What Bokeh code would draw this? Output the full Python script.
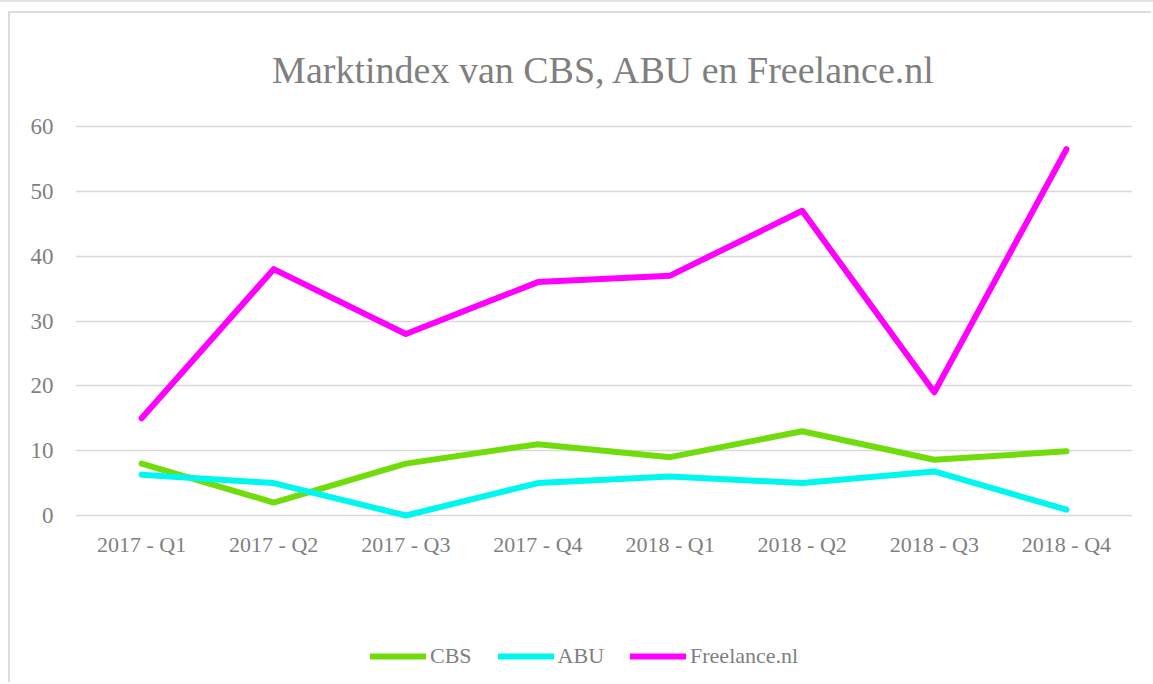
from bokeh.plotting import figure
from bokeh.models import FactorRange, Range1d, Legend, LegendItem, FixedTicker
from bokeh.embed import file_html
from bokeh.resources import INLINE

quarters = ["2017 - Q1", "2017 - Q2", "2017 - Q3", "2017 - Q4",
            "2018 - Q1", "2018 - Q2", "2018 - Q3", "2018 - Q4"]
cbs = [8.0, 2.0, 8.0, 11.0, 9.0, 13.0, 8.6, 9.9]
abu = [6.3, 5.0, 0.0, 5.0, 6.0, 5.0, 6.8, 0.9]
freelance = [15.0, 38.0, 28.0, 36.0, 37.0, 47.0, 19.0, 56.5]
y_ticks = [0, 10, 20, 30, 40, 50, 60]

series_names = ["CBS", "ABU", "Freelance.nl"]
series_colors = ["#71dc0c", "#00f7ef", "#ff00ff"]

FONT = "Liberation Serif"
TXT = "#7f7f7f"

p = figure(width=1143, height=671, x_range=FactorRange(*quarters),
           y_range=Range1d(-26.07, 60.93), output_backend="svg", toolbar_location=None,
           min_border_left=65, min_border_right=21, min_border_top=107,
           min_border_bottom=0)
p.outline_line_color = None
p.background_fill_color = "white"
p.border_fill_color = "white"

p.title.text = "Marktindex van CBS, ABU en Freelance.nl"
p.title.align = "center"
p.title.text_font = FONT
p.title.text_font_size = "38px"
p.title.text_font_style = "normal"
p.title.text_color = TXT
p.title.standoff = 60

renderers = []
for name, vals, col in zip(series_names, [cbs, abu, freelance], series_colors):
    r = p.line(quarters, vals, line_color=col, line_width=6,
               line_join="round", line_cap="round")
    renderers.append(r)

p.xgrid.grid_line_color = None
p.ygrid.grid_line_color = "#d9d9d9"
p.ygrid.grid_line_width = 1.5
p.yaxis.ticker = FixedTicker(ticks=y_ticks)

for ax in (p.xaxis[0], p.yaxis[0]):
    ax.axis_line_color = None
    ax.major_tick_line_color = None
    ax.minor_tick_line_color = None
    ax.major_tick_in = 0
    ax.major_tick_out = 0
    ax.major_label_text_font = FONT
    ax.major_label_text_color = TXT
p.xaxis.major_label_text_font_size = "22px"
p.yaxis.major_label_text_font_size = "23px"
p.yaxis.major_label_standoff = 22
p.xaxis.major_label_standoff = 17
# category axis sits on the zero line, leaving room for the legend underneath
p.xaxis.fixed_location = 0

legend = Legend(items=[LegendItem(label=n, renderers=[r]) for n, r in zip(series_names, renderers)],
                orientation="horizontal", location=(295, 15),
                padding=0, margin=0, spacing=26, label_standoff=4,
                glyph_width=56, glyph_height=20,
                border_line_color=None, background_fill_alpha=0,
                label_text_font=FONT, label_text_font_size="22px",
                label_text_color=TXT)
p.add_layout(legend, "center")

p.styles = {"margin-left": "8px", "margin-top": "11px",
            "border-left": "2px solid #dcdcdc", "border-top": "2px solid #dcdcdc",
            "outline": "2px solid #e3e3e3", "outline-offset": "9px"}

open("out.html", "w").write(file_html(p, INLINE))
